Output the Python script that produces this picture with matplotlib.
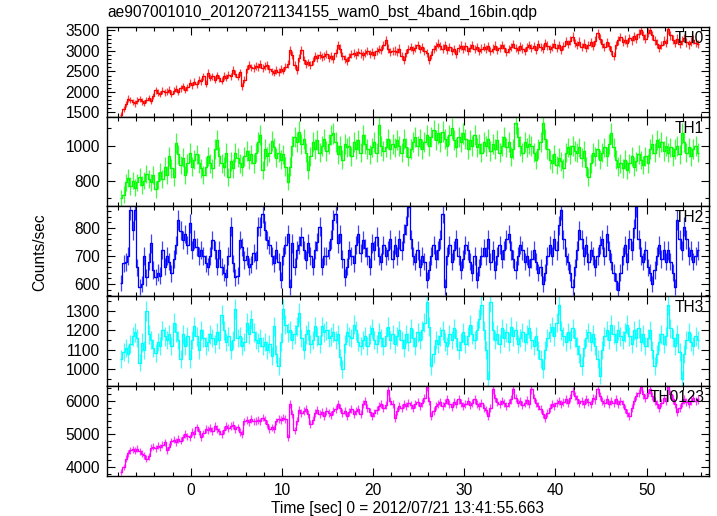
import numpy as np
import matplotlib
matplotlib.use("Agg")
import matplotlib.pyplot as plt
from matplotlib.ticker import MultipleLocator

plt.rcParams['font.family'] = ['Liberation Sans', 'DejaVu Sans']

# ---------------- data ----------------
T_START = -7.75          # first bin start [s]
BIN = 0.25               # bin width [s]

title = "ae907001010_20120721134155_wam0_bst_4band_16bin.qdp"
xlabel = "Time [sec] 0 = 2012/07/21 13:41:55.663"
ylabel = "Counts/sec"
band_names = ["TH0", "TH1", "TH2", "TH3", "TH0123"]

th0 = [
    1450, 1580, 1700, 1840, 1800, 1760, 1720, 1790, 1830, 1770, 1740, 1800, 1850, 1780, 1900, 2040, 1980, 1950, 2030, 1990,
    2010, 2060, 1960, 2030, 2080, 2000, 2090, 2140, 2050, 2110, 2220, 2170, 2250, 2190, 2300, 2260, 2380, 2200, 2460, 2350,
    2380, 2300, 2410, 2330, 2280, 2390, 2350, 2420, 2380, 2540, 2450, 2370, 2480, 2135, 2300, 2560, 2650, 2600, 2580, 2640,
    2610, 2680, 2590, 2630, 2660, 2560, 2500, 2470, 2530, 2490, 2560, 2520, 2620, 2680, 3030, 2900, 2650, 2540, 2820, 3030,
    2790, 2680, 2720, 2650, 2750, 2870, 2830, 2900, 2850, 2880, 2920, 2840, 2880, 2800, 2960, 3150, 3060, 2870, 2800, 2760,
    2850, 2930, 2960, 2900, 2980, 2940, 2890, 2960, 3000, 2930, 2970, 2900, 2990, 3050, 3020, 3140, 3270, 3060, 2970, 2990,
    3010, 2980, 3060, 2880, 2790, 2950, 3050, 3100, 3020, 3080, 3150, 3040, 3090, 3000, 2950, 2780, 2900, 3050, 3110, 3180,
    3120, 3060, 3140, 3020, 3090, 3000, 3050, 2920, 3070, 3130, 3050, 3110, 3000, 3080, 3140, 3040, 3090, 2990, 3060, 3100,
    3050, 3110, 3000, 3060, 3130, 3030, 3080, 3150, 3070, 2980, 3040, 3100, 3170, 3080, 3030, 3110, 3060, 3000, 3090, 3140,
    3070, 3120, 3030, 3160, 3090, 3060, 3200, 3130, 3050, 3100, 3180, 3080, 3150, 3030, 3120, 3240, 3170, 3250, 3350, 3200,
    3150, 3230, 3100, 3180, 3080, 3140, 3210, 3130, 3250, 3430, 3300, 3180, 3100, 3210, 3120, 3010, 2870, 3150, 3260, 3340,
    3220, 3280, 3190, 3320, 3260, 3360, 3300, 3420, 3520, 3380, 3300, 3450, 3520, 3380, 3260, 3180, 3070, 3150, 3250, 3200,
    3530, 3380, 3280, 3200, 3300, 3170, 3250, 3320, 3210, 3160, 3230, 3280, 3190, 3170,
]

th1 = [
    700, 720, 790, 815, 770, 800, 760, 790, 820, 775, 800, 840, 810, 790, 830, 750, 800, 850, 810, 880,
    830, 940, 870, 820, 1015, 950, 890, 930, 830, 900, 960, 880, 920, 950, 900, 870, 830, 880, 940, 900,
    870, 980, 1033, 940, 900, 880, 960, 820, 910, 870, 960, 930, 900, 880, 940, 970, 920, 950, 900, 960,
    1020, 1061, 860, 980, 940, 960, 1026, 990, 930, 960, 920, 950, 880, 794, 880, 1000, 1050, 1020, 1080, 1010,
    1040, 960, 860, 940, 1020, 980, 1030, 960, 1000, 1040, 970, 1010, 1060, 1070, 1020, 950, 1000, 920, 1010, 990,
    1000, 940, 1020, 980, 1030, 960, 1060, 1010, 980, 950, 990, 1020, 960, 1120, 1000, 970, 990, 1040, 980, 1010,
    990, 1030, 1000, 960, 1040, 990, 937, 980, 1020, 1050, 1000, 1040, 980, 1020, 1060, 1000, 1050, 1090, 1030, 1070,
    1020, 1080, 1040, 1000, 1060, 1100, 1030, 990, 1050, 1020, 1070, 1040, 980, 1030, 1000, 1060, 990, 1010, 960, 1020,
    1000, 1040, 970, 1010, 980, 1030, 960, 1000, 1050, 990, 1020, 937, 980, 1128, 1050, 1000, 960, 1020, 990, 1010,
    1000, 960, 918, 980, 1020, 1128, 1040, 980, 920, 900, 950, 890, 930, 910, 870, 960, 990, 950, 1000, 970,
    960, 990, 930, 970, 880, 823, 900, 960, 940, 980, 920, 960, 990, 940, 1010, 1070, 990, 920, 880, 900,
    870, 920, 860, 900, 940, 880, 910, 950, 918, 890, 940, 900, 980, 1010, 960, 1030, 990, 1020, 970, 1000,
    960, 990, 940, 980, 1000, 950, 1070, 1020, 960, 990, 940, 980, 1000, 960,
]

th2 = [
    603, 674, 678, 700, 864, 793, 864, 660, 590, 600, 700, 624, 680, 745, 650, 625, 640, 630, 721, 662,
    700, 680, 638, 690, 740, 829, 790, 757, 779, 740, 817, 721, 760, 733, 700, 721, 700, 674, 662, 700,
    757, 721, 662, 721, 662, 640, 624, 700, 805, 674, 624, 630, 757, 733, 686, 700, 662, 670, 710, 686,
    805, 805, 852, 793, 757, 740, 700, 674, 721, 680, 614, 700, 740, 779, 590, 745, 662, 721, 740, 769,
    721, 686, 745, 700, 662, 721, 750, 805, 662, 700, 700, 721, 760, 829, 852, 745, 779, 690, 624, 662,
    721, 700, 674, 740, 779, 710, 757, 730, 700, 662, 745, 720, 769, 700, 680, 740, 700, 720, 760, 690,
    740, 700, 760, 720, 780, 810, 876, 760, 700, 680, 720, 660, 700, 680, 614, 650, 700, 740, 690, 720,
    760, 852, 590, 700, 740, 680, 720, 760, 700, 650, 690, 740, 720, 680, 640, 700, 614, 660, 700, 730,
    700, 760, 680, 720, 650, 700, 740, 690, 720, 760, 779, 720, 690, 650, 700, 740, 720, 680, 700, 660,
    690, 720, 680, 640, 660, 600, 640, 700, 740, 700, 760, 720, 810, 864, 760, 700, 680, 640, 590, 660,
    720, 793, 760, 700, 740, 680, 720, 700, 660, 700, 740, 760, 700, 779, 720, 680, 640, 610, 578, 640,
    700, 740, 680, 760, 720, 800, 876, 760, 700, 680, 720, 660, 640, 600, 650, 700, 740, 690, 720, 680,
    720, 680, 640, 590, 829, 760, 720, 805, 760, 700, 720, 680, 700, 720,
]

th3 = [
    1051, 1090, 1110, 1080, 1130, 1170, 1190, 1160, 1033, 1137, 1100, 1300, 1180, 1150, 1110, 1085, 1140, 1120, 1200, 1170,
    1150, 1180, 1120, 1240, 1190, 1150, 1051, 1180, 1120, 1170, 1051, 1150, 1222, 1170, 1100, 1200, 1160, 1120, 1140, 1180,
    1160, 1130, 1190, 1150, 1282, 1200, 1140, 1170, 1100, 1150, 1309, 1160, 1170, 1120, 1140, 1240, 1180, 1257, 1190, 1150,
    1137, 1160, 1120, 1140, 1100, 1130, 1068, 1222, 1080, 1016, 1140, 1309, 1230, 1190, 1200, 1150, 1180, 1222, 1291, 1160,
    1100, 1180, 1200, 1130, 1150, 1222, 1170, 1130, 1222, 1190, 1200, 1160, 1170, 1190, 1150, 1180, 1060, 1000, 1130, 1190,
    1170, 1160, 1230, 1200, 1140, 1120, 1150, 1170, 1120, 1180, 1210, 1150, 1130, 1190, 1160, 1120, 1170, 1220, 1150, 1180,
    1130, 1170, 1200, 1150, 1110, 1180, 1140, 1210, 1160, 1120, 1190, 1150, 1200, 1240, 1345, 1220, 1016, 1080, 1150, 1130,
    1170, 1200, 1140, 1120, 1180, 1150, 1210, 1160, 1100, 1140, 1190, 1130, 1170, 1230, 1180, 1150, 1200, 1260, 1330, 1200,
    1100, 948, 1345, 1200, 1150, 1180, 1130, 1210, 1160, 1190, 1140, 1220, 1170, 1200, 1130, 1160, 1190, 1140, 1180, 1210,
    1150, 1120, 1170, 1100, 1050, 1000, 1100, 1160, 1190, 1220, 1170, 1240, 1330, 1200, 1170, 1140, 1190, 1150, 1210, 1160,
    1120, 1080, 1016, 1110, 1160, 1190, 1140, 1180, 1120, 1050, 965, 1100, 1170, 1200, 1150, 1230, 1180, 1140, 1200, 1170,
    1150, 1190, 1230, 1170, 1130, 1200, 1160, 1210, 1140, 1180, 1120, 1160, 1200, 1100, 1016, 1080, 1140, 1180, 1130, 1170,
    1330, 1210, 1160, 1120, 1180, 1090, 948, 1080, 1150, 1190, 1140, 1120, 1170, 1150,
]

th0123 = [
    3850, 4000, 4250, 4420, 4500, 4540, 4490, 4560, 4480, 4400, 4360, 4250, 4330, 4580, 4620, 4570, 4650, 4600, 4680, 4750,
    4500, 4620, 4780, 4830, 4760, 4850, 4800, 4900, 5000, 4930, 4900, 5060, 5000, 5200, 5080, 4900, 5020, 5150, 5120, 5180,
    5100, 5250, 5150, 5080, 5000, 5120, 5250, 5180, 5240, 5280, 5150, 5200, 5070, 5000, 5380, 5420, 5350, 5450, 5380, 5400,
    5430, 5380, 5500, 5420, 5300, 5150, 5200, 5150, 5380, 5460, 5420, 5500, 5450, 4900, 5900, 5600, 5110, 5400, 5720, 5650,
    5700, 5750, 5600, 5300, 5420, 5650, 5720, 5600, 5680, 5560, 5700, 5640, 5590, 5700, 5760, 5910, 5800, 5650, 5700, 5560,
    5680, 5750, 5600, 5700, 5760, 5620, 5900, 6000, 5800, 5680, 5560, 5650, 5720, 5850, 5900, 5800, 5870, 6320, 6000, 5900,
    5480, 5700, 5850, 5800, 5920, 5850, 5950, 5880, 5800, 5900, 5980, 5850, 5950, 6100, 6420, 6000, 5550, 5700, 5850, 5920,
    5980, 5850, 5950, 6050, 5900, 5820, 5980, 5900, 6050, 5950, 5850, 5920, 6000, 5880, 5950, 6050, 5900, 5850, 5950, 5800,
    5720, 5560, 5800, 6350, 6100, 5980, 5900, 6000, 5950, 5850, 5950, 6050, 6350, 6100, 5950, 6000, 5880, 5950, 6020, 5900,
    6350, 6100, 5950, 5850, 5750, 5620, 5480, 5650, 5800, 5900, 5850, 5950, 6000, 5900, 5980, 6050, 5950, 6100, 6300, 6150,
    6050, 5950, 6000, 5900, 6050, 5980, 5900, 6100, 6050, 6350, 6150, 6000, 5950, 6050, 5900, 6000, 5950, 6050, 5900, 6000,
    5900, 5750, 5650, 5550, 5800, 6000, 6150, 6250, 6420, 6200, 6100, 6250, 6350, 6150, 6000, 5900, 5800, 5950, 6100, 6000,
    6450, 6200, 6050, 5900, 5670, 5800, 5950, 6050, 5980, 5900, 6000, 6100, 6000, 6050,
]

# approximate 1-sigma error size per panel (counts/sec at the typical rate)
err_ref = [100, 55, 32, 48, 125]
rate_ref = [3000, 950, 700, 1150, 5900]

series = [th0, th1, th2, th3, th0123]

# ---------------- style ----------------
colors = ["#ff0000", "#00ff00", "#0000ff", "#00ffff", "#ff00ff"]
ylims = [(1390, 3585), (655, 1164), (557, 879), (912, 1378), (3727, 6455)]
ymajor = [500, 200, 100, 100, 1000]
yminor = [100, 100, 20, 50, 200]
xlim = (-9.2, 56.85)
FS = 11.2

W, H = 717, 516
fig = plt.figure(figsize=(W / 100, H / 100), dpi=100)
left, right = 107 / W, 709 / W
tops = [27, 117, 206, 296, 386, 476]

for i, vals in enumerate(series):
    y_top, y_bot = tops[i], tops[i + 1]
    ax = fig.add_axes([left, 1 - y_bot / H, right - left, (y_bot - y_top) / H])
    v = np.asarray(vals, dtype=float)
    t = T_START + BIN / 2 + BIN * np.arange(len(v))
    e = err_ref[i] * np.sqrt(v / rate_ref[i])
    ax.errorbar(t, v, xerr=BIN / 2, yerr=e, fmt='none', ecolor=colors[i],
                elinewidth=0.9, capsize=0, alpha=0.75)
    ax.step(t, v, where='mid', color=colors[i], lw=0.9)
    ax.set_xlim(*xlim)
    ax.set_ylim(*ylims[i])
    ax.xaxis.set_major_locator(MultipleLocator(10))
    ax.xaxis.set_minor_locator(MultipleLocator(2))
    ax.yaxis.set_major_locator(MultipleLocator(ymajor[i]))
    ax.yaxis.set_minor_locator(MultipleLocator(yminor[i]))
    ax.tick_params(which='both', direction='in', top=True, right=True,
                   labelsize=FS, width=0.8, pad=5)
    ax.tick_params(which='major', length=6)
    ax.tick_params(which='minor', length=3)
    for sp in ax.spines.values():
        sp.set_linewidth(1.0)
    if i < len(series) - 1:
        ax.tick_params(labelbottom=False)
    ax.text(0.992, 0.955, band_names[i], transform=ax.transAxes,
            ha='right', va='top', fontsize=FS)

fig.text(left, 1 - 12 / H, title, ha='left', va='center', fontsize=FS)
fig.text(40 / W, 1 - 252 / H, ylabel, rotation=90, ha='center', va='center', fontsize=FS)
fig.text((left + right) / 2, 1 - 509 / H, xlabel, ha='center', va='center', fontsize=FS)

fig.savefig("out.png", dpi=100)
